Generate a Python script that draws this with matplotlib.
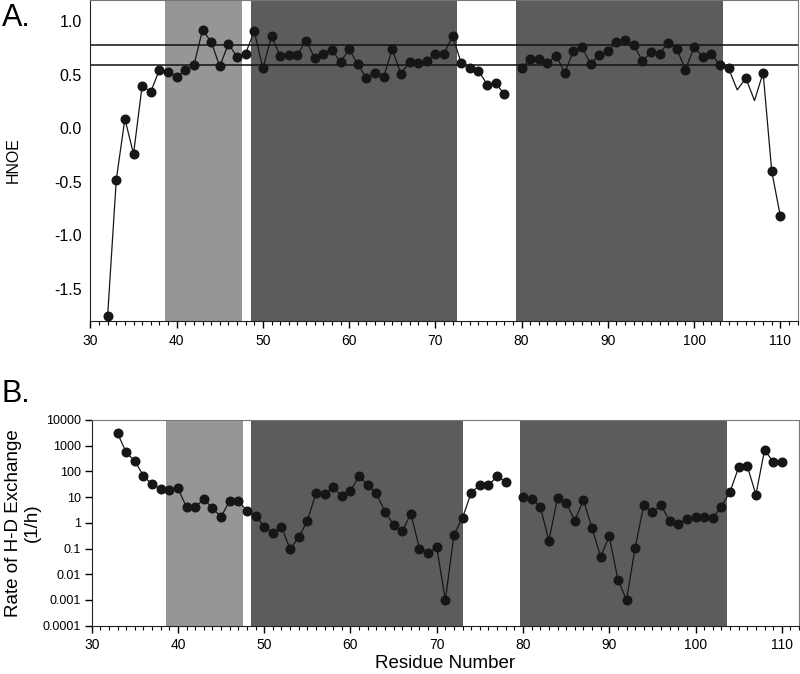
import numpy as np
import matplotlib
matplotlib.use("Agg")
import matplotlib.pyplot as plt
from matplotlib.ticker import MultipleLocator, FixedLocator, FixedFormatter

plt.rcParams['font.family'] = ['Liberation Sans', 'DejaVu Sans']

# panel A: heteronuclear NOE per residue (79 missing)
res_a = list(range(32, 111))
hnoe = [-1.75, -0.48, 0.09, -0.24, 0.40, 0.34, 0.55, 0.53, 0.48, 0.55,
        0.59, 0.92, 0.81, 0.58, 0.79, 0.67, 0.70, 0.91, 0.56, 0.86,
        0.68, 0.69, 0.69, 0.82, 0.66, 0.70, 0.73, 0.62, 0.74, 0.60,
        0.47, 0.52, 0.48, 0.74, 0.51, 0.62, 0.61, 0.63, 0.70, 0.70,
        0.86, 0.61, 0.56, 0.54, 0.41, 0.42, 0.32, np.nan, 0.56, 0.65,
        0.65, 0.61, 0.68, 0.52, 0.72, 0.76, 0.60, 0.69, 0.72, 0.81,
        0.83, 0.78, 0.63, 0.71, 0.70, 0.80, 0.74, 0.55, 0.76, 0.67,
        0.70, 0.59, 0.56, 0.36, 0.47, 0.26, 0.52, -0.40, -0.82]
no_marker_a = [105, 107]
hnoe_lines = [0.78, 0.59]

# panel B: H-D exchange rate (1/h)
res_b = list(range(33, 111))
rate = [3000, 550, 250, 68, 31, 21, 19, 22, 4.0, 4.0,
        8.5, 3.7, 1.7, 7.3, 6.9, 3.0, 1.9, 0.71, 0.40, 0.71,
        0.095, 0.27, 1.2, 14, 13, 24, 11, 17, 66, 29,
        14, 2.7, 0.85, 0.46, 2.3, 0.098, 0.067, 0.11, 0.001, 0.35,
        1.6, 15, 30, 29, 65, 39, np.nan, 10.5, 8.7, 4.3,
        0.20, 9.3, 6.1, 1.2, 7.8, 0.63, 0.048, 0.30, 0.0062, 0.001,
        0.108, 4.8, 2.6, 4.8, 1.2, 0.9, 1.37, 1.7, 1.75, 1.55,
        4.3, 16, 145, 162, 12.4, 675, 240, 240]

# shaded secondary structure regions
light_a = [(38.7, 47.6)]
dark_a = [(48.6, 72.5), (79.4, 103.4)]
light_b = [(38.6, 47.5)]
dark_b = [(48.5, 73.0), (79.6, 103.6)]

light_col = '#969696'
dark_col = '#5c5c5c'
pt_col = '#161616'

fig = plt.figure(figsize=(8, 6.74), dpi=100)


def style_x(ax):
    ax.set_xlim(30, 112)
    ax.xaxis.set_major_locator(MultipleLocator(10))
    ax.xaxis.set_minor_locator(MultipleLocator(1))
    ax.tick_params(axis='x', which='major', direction='out', length=5, width=1, labelsize=10, pad=4)
    ax.tick_params(axis='x', which='minor', direction='out', length=3, width=0.8)
    for s in ['top', 'right']:
        ax.spines[s].set_color('#777777')
    for s in ['left', 'bottom']:
        ax.spines[s].set_color('#222222')


def shade(ax, light, dark):
    for a, b in light:
        ax.axvspan(a, b, color=light_col, lw=0, zorder=0)
    for a, b in dark:
        ax.axvspan(a, b, color=dark_col, lw=0, zorder=0)


# ---- panel A
ax1 = fig.add_axes([0.113, 0.5237, 0.884, 0.4763])
shade(ax1, light_a, dark_a)
x_a = np.array(res_a)
y_a = np.array(hnoe)
ax1.plot(x_a, y_a, color=pt_col, lw=0.9, zorder=3)
keep = ~np.isin(x_a, no_marker_a)
ax1.plot(x_a[keep], y_a[keep], 'o', color=pt_col, ms=6.2, zorder=4)
for h in hnoe_lines:
    ax1.axhline(h, color='#111111', lw=1.1, zorder=2)
ax1.set_ylim(-1.8, 1.2)
ax1.yaxis.set_major_locator(FixedLocator([-1.5, -1.0, -0.5, 0.0, 0.5, 1.0]))
ax1.yaxis.set_major_formatter(matplotlib.ticker.FormatStrFormatter('%.1f'))
ax1.tick_params(axis='y', direction='out', length=0, labelsize=11.5, pad=6)
style_x(ax1)
ax1.set_ylabel('HNOE', fontsize=11.5, labelpad=24)
fig.text(0.002, 0.995, 'A.', fontsize=22, va='top', ha='left')

# ---- panel B
ax2 = fig.add_axes([0.1146, 0.0717, 0.8842, 0.3052])
shade(ax2, light_b, dark_b)
ax2.plot(res_b, rate, color=pt_col, lw=0.9, zorder=3)
ax2.plot(res_b, rate, 'o', color=pt_col, ms=6.2, zorder=4)
ax2.set_yscale('log')
ax2.set_ylim(1e-4, 1e4)
ytk = [1e-4, 1e-3, 1e-2, 1e-1, 1, 10, 100, 1000, 10000]
ytl = ['0.0001', '0.001', '0.01', '0.1', '1', '10', '100', '1000', '10000']
ax2.yaxis.set_major_locator(FixedLocator(ytk))
ax2.yaxis.set_major_formatter(FixedFormatter(ytl))
ax2.yaxis.set_minor_locator(FixedLocator([]))
ax2.tick_params(axis='y', direction='out', length=5, width=1, labelsize=9, pad=3)
style_x(ax2)
ax2.set_ylabel('Rate of H-D Exchange\n(1/h)', fontsize=13.5, labelpad=1, linespacing=1.15)
ax2.set_xlabel('Residue Number', fontsize=13.5, labelpad=2)
fig.text(0.002, 0.438, 'B.', fontsize=22, va='top', ha='left')

plt.savefig('out.png', dpi=100)
